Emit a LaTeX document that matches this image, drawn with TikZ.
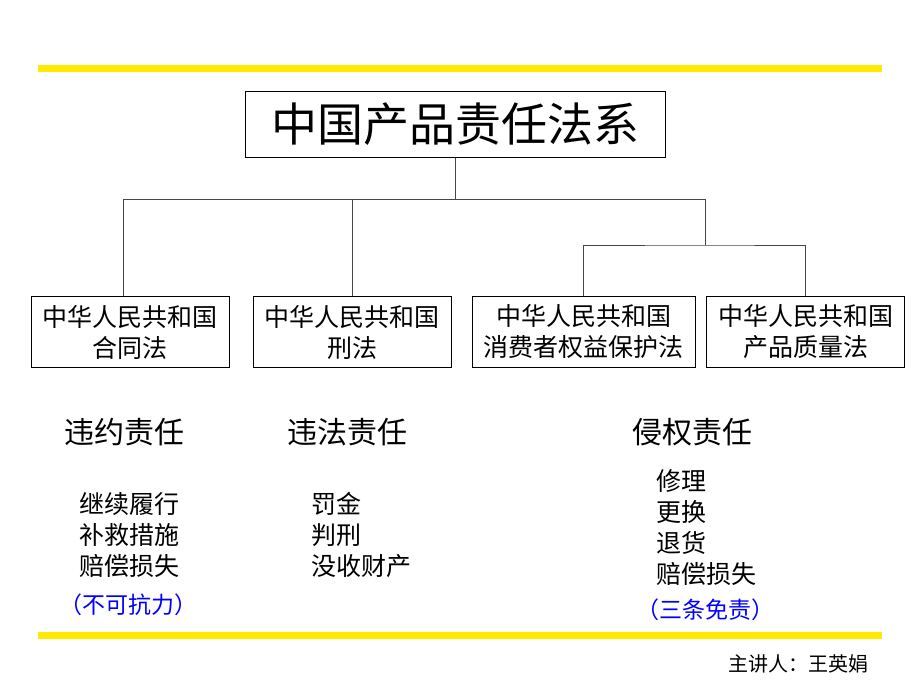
\documentclass[tikz,border=0pt]{standalone}
\usepackage{fontspec}
\setmainfont{Noto Sans CJK SC}
\usetikzlibrary{positioning}
\definecolor{barYellow}{RGB}{255,234,0}
\definecolor{connGray}{RGB}{70,70,70}
\begin{document}
\begin{tikzpicture}[x=1pt,y=-1pt,
	lawbox/.style={draw=black,line width=1pt,minimum width=198pt,minimum height=71pt,inner sep=0pt,align=center,font=\fontsize{25}{31}\selectfont},
	conn/.style={draw=connGray,line width=1pt},
	bar/.style={draw=barYellow,line width=7pt},
	duty/.style={font=\fontsize{30}{36}\selectfont},
	item/.style={anchor=west,align=left,inner sep=0pt,font=\fontsize{25}{31}\selectfont},
	note/.style={text=blue,font=\fontsize{23}{27}\selectfont}]
\useasboundingbox (0,0) rectangle (920,690);
% yellow rules
\draw[bar] (38,68.5) -- (882,68.5);
\draw[bar] (38,635.5) -- (882,635.5);
% top box
\node[draw=black,line width=1pt,minimum width=420pt,minimum height=65pt,font=\fontsize{46}{52}\selectfont] (title) at (455,124.5) {中国产品责任法系};
% the four laws
\node[lawbox] (contract) at (130,332) {中华人民共和国\\合同法};
\node[lawbox] (criminal) at (352,332) {中华人民共和国\\刑法};
\node[lawbox,minimum width=223pt] (consumer) at (583.5,332) {中华人民共和国\\消费者权益保护法};
\node[lawbox] (quality) at (805.5,332) {中华人民共和国\\产品质量法};
% connectors
\coordinate (busL) at (123,199);
\coordinate (busR) at (705,199);
\coordinate (subR) at (705,245);
\draw[conn] (title.south) -- (title.south |- busL);
\draw[conn] (busL |- contract.north) -- (busL) -- (busR) -- (subR);
\draw[conn] (criminal.north) -- (criminal.north |- busL);
\draw[conn] (consumer.north) |- (subR) -| (quality.north);
% liabilities
\node[duty] (breach) at (124,432) {违约责任};
\node[duty] (illegal) at (347,432) {违法责任};
\node[duty] (tort) at (692,432) {侵权责任};
\node[item] (remedyA) at (79,535) {继续履行\\补救措施\\赔偿损失};
\node[item] (remedyB) at (311,535) {罚金\\判刑\\没收财产};
\node[item] (remedyC) at (656,527.5) {修理\\更换\\退货\\赔偿损失};
\node[note] (forcemaj) at (128,605) {（不可抗力）};
\node[note] (exempt) at (705,610) {（三条免责）};
\node[anchor=east,font=\fontsize{20}{24}\selectfont] (speaker) at (872,664) {主讲人：王英娟};
\end{tikzpicture}
\end{document}
